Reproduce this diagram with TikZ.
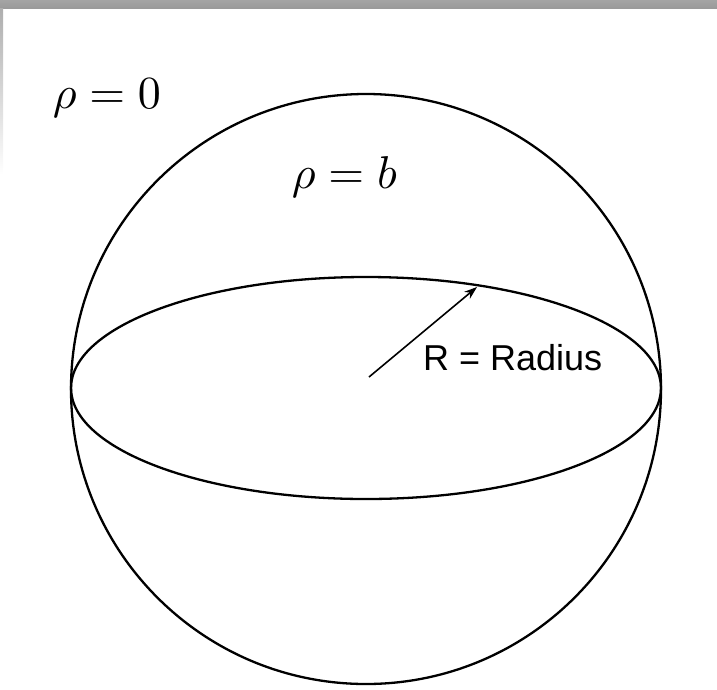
\documentclass[tikz,border=0pt]{standalone}
\usepackage{fontspec}
\newfontfamily\labelfont{Liberation Sans}
\usetikzlibrary{arrows.meta}
\definecolor{framegray}{HTML}{9A9A9A}

\begin{document}
\begin{tikzpicture}[
  x=1pt, y=-1pt,
  outline/.style={draw=black, line width=2.3pt},
  mathlbl/.style={anchor=base west, inner sep=0pt, scale=4.6, transform shape},
  txtlbl/.style={anchor=base west, inner sep=0pt, font=\labelfont\fontsize{36}{43}\selectfont},
  arr/.style={-{Stealth[length=13pt,width=9pt]}, line width=1.6pt}
]
\useasboundingbox (0,0) rectangle (717,689);
% window frame
\fill[top color=framegray!90, bottom color=framegray] (0,0) rectangle (717,8);
\shade[top color=framegray!80, bottom color=white] (0,8) rectangle (3,175);
% sphere
\coordinate (ctr) at (366,389);
\draw[outline] (ctr) circle[radius=295];
\draw[outline] (366,388) ellipse[x radius=295, y radius=111];
% radius arrow
\coordinate (rs) at (369,377);
\coordinate (re) at (477,287);
\draw[arr] (rs) -- (re);
% labels
\node[mathlbl] (outer) at (52,108) {$\rho = 0$};
\node[mathlbl] (surf)  at (291,188) {$\rho = b$};
\node[txtlbl]  (rad)   at (423,370) {R = Radius};
\end{tikzpicture}
\end{document}
